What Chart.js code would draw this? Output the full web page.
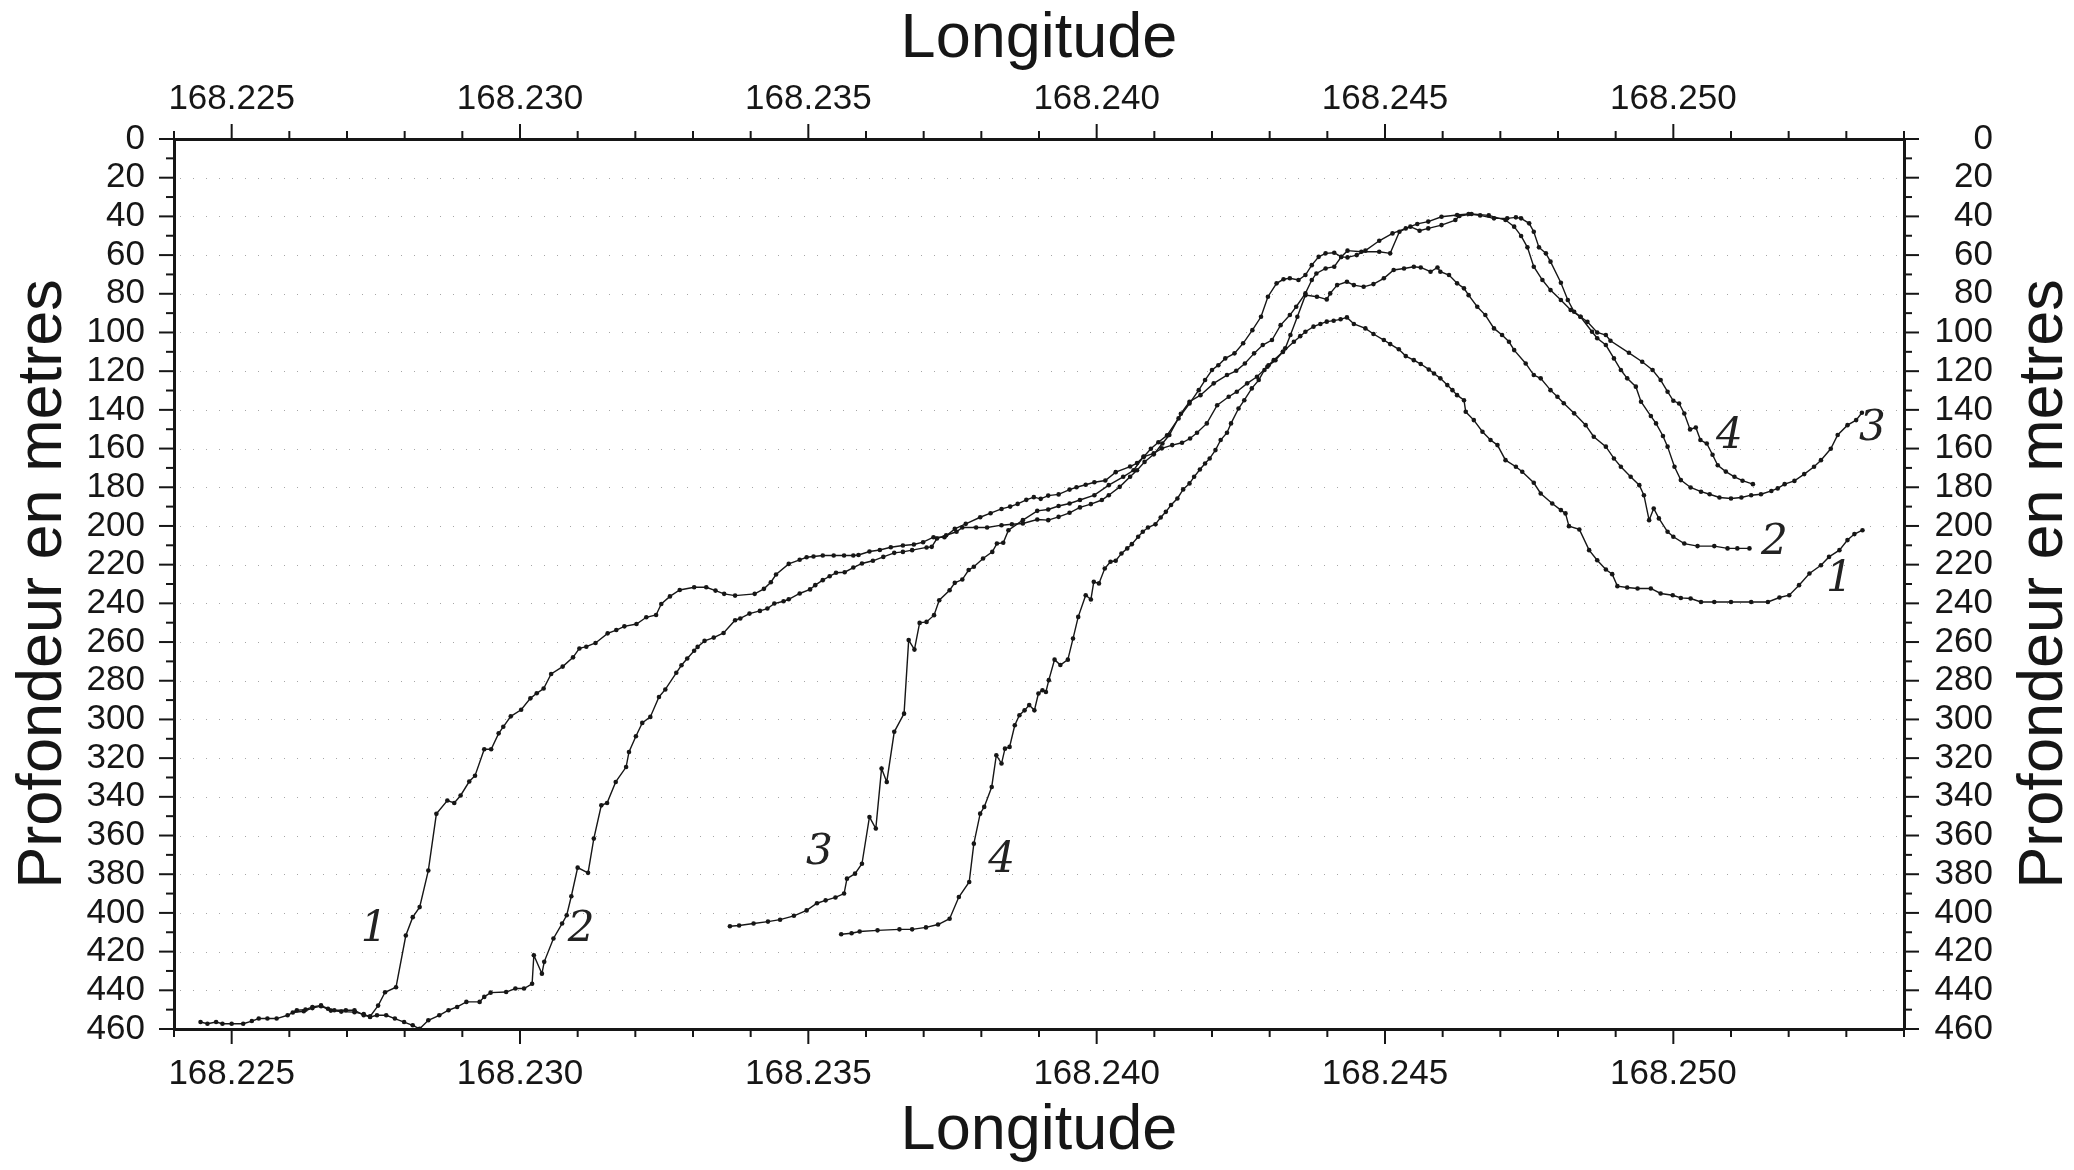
<!DOCTYPE html>
<html>
<head>
<meta charset="utf-8">
<title>Profondeur en metres / Longitude</title>
<script src="https://cdn.jsdelivr.net/npm/chart.js@4.4.1/dist/chart.umd.min.js"></script>
<style>
  html, body { margin: 0; padding: 0; background: #fff; }
  #wrap { width: 2074px; height: 1170px; }
</style>
</head>
<body>
<div id="wrap"><canvas id="profileChart" width="2074" height="1170"></canvas></div>
<script>
// axis ranges and tick steps
const lonMin = 168.224, lonMax = 168.254, lonStep = 0.001;
const depthMin = 0, depthMax = 460, depthStep = 10;

// profile 1
const p1Lon = [
  168.22446, 168.22458, 168.22473, 168.22484, 168.22500, 168.22520, 168.22535, 168.22547, 168.22562, 168.22578,
  168.22597, 168.22613, 168.22628, 168.22640, 168.22655, 168.22667, 168.22678, 168.22698, 168.22713, 168.22729,
  168.22740, 168.22754, 168.22766, 168.22785, 168.22802, 168.22814, 168.22826, 168.22841, 168.22855, 168.22874,
  168.22886, 168.22897, 168.22912, 168.22922, 168.22938, 168.22950, 168.22963, 168.22971, 168.22984, 168.23002,
  168.23018, 168.23029, 168.23041, 168.23054, 168.23074, 168.23092, 168.23103, 168.23115, 168.23131, 168.23152,
  168.23167, 168.23181, 168.23202, 168.23219, 168.23236, 168.23245, 168.23260, 168.23277, 168.23302, 168.23323,
  168.23339, 168.23354, 168.23373, 168.23407, 168.23423, 168.23435, 168.23444, 168.23466, 168.23485, 168.23497,
  168.23509, 168.23525, 168.23544, 168.23562, 168.23578, 168.23587, 168.23606, 168.23624, 168.23643, 168.23664,
  168.23683, 168.23699, 168.23717, 168.23736, 168.23754, 168.23773, 168.23798, 168.23816, 168.23835, 168.23850,
  168.23863, 168.23878, 168.23891, 168.23903, 168.23916, 168.23934, 168.23953, 168.23965, 168.23981, 168.23996,
  168.24015, 168.24033, 168.24058, 168.24070, 168.24082, 168.24094, 168.24107, 168.24122, 168.24142, 168.24161,
  168.24177, 168.24188, 168.24200, 168.24211, 168.24223, 168.24239, 168.24254, 168.24270, 168.24285, 168.24297,
  168.24312, 168.24324, 168.24335, 168.24350, 168.24362, 168.24373, 168.24385, 168.24397, 168.24412, 168.24424,
  168.24435, 168.24451, 168.24466, 168.24490, 168.24513, 168.24536, 168.24556, 168.24575, 168.24598, 168.24625,
  168.24645, 168.24665, 168.24689, 168.24712, 168.24727, 168.24736, 168.24750, 168.24758, 168.24767, 168.24779,
  168.24787, 168.24805, 168.24817, 168.24828, 168.24839, 168.24851, 168.24868, 168.24883, 168.24891, 168.24923,
  168.24946, 168.24964, 168.24978, 168.24990, 168.25000, 168.25010, 168.25019, 168.25029, 168.25039, 168.25047,
  168.25058, 168.25068, 168.25077, 168.25091, 168.25106, 168.25120, 168.25138
];
const p1Depth = [
  456.4, 457.3, 456.4, 457.3, 457.3, 457.3, 455.9, 454.6, 454.6, 454.6,
  452.9, 450.3, 450.0, 448.6, 447.8, 449.5, 450.3, 450.3, 450.3, 452.9,
  453.5, 447.9, 441.0, 438.4, 411.7, 402.2, 397.0, 378.1, 348.8, 341.9,
  343.2, 339.3, 332.1, 329.1, 315.4, 315.4, 307.2, 303.8, 298.4, 295.0,
  289.1, 286.5, 284.0, 276.5, 272.7, 267.9, 263.3, 262.4, 260.5, 255.5,
  253.8, 251.9, 250.7, 247.2, 246.0, 240.3, 236.4, 233.1, 231.7, 231.7,
  233.4, 235.1, 236.0, 235.1, 232.5, 229.1, 225.1, 219.6, 217.5, 216.2,
  215.8, 215.3, 215.3, 215.3, 215.3, 215.0, 213.2, 212.4, 211.0, 210.1,
  209.6, 208.4, 205.8, 205.8, 201.5, 198.9, 195.5, 193.4, 191.2, 190.0,
  188.6, 186.5, 185.1, 186.0, 184.3, 183.7, 181.2, 180.0, 178.7, 177.4,
  176.5, 172.2, 169.3, 167.5, 164.1, 160.1, 156.7, 153.2, 144.4, 136.7,
  129.8, 124.6, 119.4, 116.9, 113.4, 110.8, 105.6, 98.8, 91.9, 81.5,
  74.6, 72.5, 72.0, 72.9, 70.3, 65.2, 60.9, 59.1, 58.8, 60.9,
  61.2, 60.0, 57.7, 52.6, 48.8, 46.2, 43.9, 42.7, 40.2, 39.3,
  38.8, 39.5, 41.0, 41.0, 40.5, 41.0, 43.6, 47.9, 56.0, 59.1,
  63.4, 74.3, 83.2, 89.3, 91.9, 94.5, 100.0, 101.3, 104.3, 110.5,
  115.1, 119.4, 124.6, 130.6, 135.3, 136.7, 141.9, 150.1, 149.1, 155.6,
  157.4, 163.2, 168.6, 171.9, 174.6, 176.6, 178.4
];

// profile 2
const p2Lon = [
  168.22606, 168.22625, 168.22640, 168.22655, 168.22672, 168.22690, 168.22713, 168.22729, 168.22740, 168.22752,
  168.22768, 168.22783, 168.22799, 168.22814, 168.22826, 168.22841, 168.22860, 168.22876, 168.22891, 168.22907,
  168.22930, 168.22938, 168.22949, 168.22976, 168.22992, 168.23007, 168.23021, 168.23024, 168.23038, 168.23042,
  168.23058, 168.23073, 168.23081, 168.23089, 168.23100, 168.23118, 168.23128, 168.23141, 168.23151, 168.23166,
  168.23184, 168.23189, 168.23201, 168.23212, 168.23226, 168.23241, 168.23252, 168.23271, 168.23280, 168.23290,
  168.23302, 168.23308, 168.23320, 168.23336, 168.23353, 168.23373, 168.23382, 168.23398, 168.23416, 168.23429,
  168.23441, 168.23457, 168.23466, 168.23485, 168.23503, 168.23512, 168.23525, 168.23537, 168.23548, 168.23563,
  168.23578, 168.23593, 168.23612, 168.23630, 168.23649, 168.23664, 168.23680, 168.23705, 168.23714, 168.23723,
  168.23739, 168.23757, 168.23767, 168.23791, 168.23810, 168.23835, 168.23853, 168.23872, 168.23897, 168.23916,
  168.23934, 168.23953, 168.23971, 168.23990, 168.24009, 168.24021, 168.24040, 168.24058, 168.24070, 168.24083,
  168.24099, 168.24114, 168.24126, 168.24146, 168.24161, 168.24180, 168.24203, 168.24226, 168.24242, 168.24257,
  168.24273, 168.24288, 168.24304, 168.24319, 168.24335, 168.24346, 168.24362, 168.24373, 168.24381, 168.24397,
  168.24412, 168.24424, 168.24435, 168.24459, 168.24490, 168.24509, 168.24525, 168.24544, 168.24560, 168.24575,
  168.24598, 168.24622, 168.24629, 168.24650, 168.24680, 168.24709, 168.24724, 168.24736, 168.24747, 168.24758,
  168.24773, 168.24787, 168.24805, 168.24822, 168.24839, 168.24859, 168.24868, 168.24883, 168.24897, 168.24909,
  168.24920, 168.24935, 168.24944, 168.24961, 168.24970, 168.24982, 168.24990, 168.25002, 168.25013, 168.25030,
  168.25048, 168.25063, 168.25080, 168.25100, 168.25118, 168.25135, 168.25152, 168.25170, 168.25181, 168.25193,
  168.25210, 168.25227, 168.25244, 168.25256, 168.25273, 168.25285, 168.25302, 168.25317, 168.25327
];
const p2Depth = [
  451.5, 450.8, 449.2, 448.2, 450.5, 451.0, 451.3, 452.3, 453.8, 452.9,
  452.9, 454.6, 456.4, 458.1, 459.9, 455.5, 452.9, 450.3, 448.6, 446.0,
  446.0, 443.4, 441.2, 440.9, 439.1, 439.1, 436.6, 421.9, 431.4, 425.3,
  413.2, 405.5, 401.2, 391.4, 376.6, 379.3, 361.6, 344.4, 343.2, 332.3,
  324.6, 316.8, 308.7, 301.8, 298.7, 288.4, 284.5, 275.9, 272.0, 268.5,
  264.5, 262.5, 259.4, 257.7, 255.3, 248.7, 247.8, 245.3, 243.9, 242.7,
  240.1, 238.9, 237.9, 234.9, 232.8, 230.6, 228.0, 226.0, 224.2, 223.9,
  221.5, 219.4, 218.0, 216.0, 213.9, 213.4, 212.5, 211.1, 210.8, 206.5,
  204.8, 203.0, 200.8, 200.8, 200.8, 199.6, 199.1, 198.7, 196.7, 197.0,
  195.3, 193.2, 190.4, 188.7, 186.6, 184.1, 179.8, 174.6, 171.2, 166.9,
  163.0, 157.4, 153.0, 142.0, 135.8, 132.4, 126.3, 122.0, 119.8, 116.0,
  110.8, 106.5, 103.9, 96.2, 91.0, 86.7, 79.8, 72.9, 69.5, 66.9,
  66.0, 61.0, 57.7, 58.3, 58.3, 59.1, 47.9, 45.3, 47.4, 46.2,
  44.5, 41.9, 39.8, 38.8, 39.5, 41.9, 45.3, 50.1, 56.0, 66.0,
  72.9, 78.1, 83.2, 88.4, 91.9, 99.6, 103.0, 106.5, 113.4, 119.4,
  123.7, 128.0, 135.8, 143.2, 147.0, 153.5, 159.0, 169.4, 176.3, 180.1,
  182.3, 183.6, 185.3, 185.8, 185.3, 184.1, 183.6, 181.9, 180.6, 178.4,
  176.7, 173.2, 169.4, 166.0, 160.1, 153.0, 147.9, 145.3, 141.5
];

// profile 3
const p3Lon = [
  168.23364, 168.23380, 168.23405, 168.23430, 168.23451, 168.23475, 168.23497, 168.23515, 168.23530, 168.23547,
  168.23562, 168.23567, 168.23581, 168.23593, 168.23606, 168.23617, 168.23627, 168.23636, 168.23649, 168.23666,
  168.23674, 168.23684, 168.23693, 168.23705, 168.23718, 168.23727, 168.23745, 168.23754, 168.23767, 168.23778,
  168.23787, 168.23803, 168.23819, 168.23827, 168.23838, 168.23847, 168.23872, 168.23897, 168.23916, 168.23934,
  168.23953, 168.23971, 168.23996, 168.24021, 168.24046, 168.24064, 168.24081, 168.24099, 168.24113, 168.24131,
  168.24148, 168.24162, 168.24174, 168.24191, 168.24209, 168.24229, 168.24243, 168.24261, 168.24278, 168.24296,
  168.24310, 168.24323, 168.24342, 168.24353, 168.24362, 168.24376, 168.24388, 168.24399, 168.24411, 168.24423,
  168.24434, 168.24446, 168.24466, 168.24480, 168.24498, 168.24509, 168.24524, 168.24536, 168.24550, 168.24562,
  168.24576, 168.24585, 168.24596, 168.24608, 168.24617, 168.24625, 168.24637, 168.24640, 168.24654, 168.24669,
  168.24683, 168.24695, 168.24709, 168.24727, 168.24738, 168.24758, 168.24770, 168.24790, 168.24805, 168.24813,
  168.24819, 168.24837, 168.24854, 168.24868, 168.24883, 168.24894, 168.24903, 168.24920, 168.24938, 168.24961,
  168.24978, 168.24999, 168.25013, 168.25030, 168.25048, 168.25071, 168.25100, 168.25135, 168.25164, 168.25184,
  168.25201, 168.25218, 168.25236, 168.25256, 168.25270, 168.25288, 168.25302, 168.25314, 168.25328
];
const p3Depth = [
  406.9, 406.5, 405.5, 404.5, 403.5, 401.5, 398.7, 395.0, 393.5, 392.0,
  390.0, 382.3, 379.7, 374.6, 350.4, 356.4, 325.4, 332.3, 306.4, 297.0,
  259.0, 263.9, 250.1, 249.6, 246.1, 238.4, 233.2, 229.4, 227.7, 222.8,
  221.1, 216.8, 213.4, 209.1, 208.7, 202.2, 197.0, 192.2, 191.5, 189.7,
  188.4, 186.6, 184.1, 178.9, 174.6, 171.2, 164.3, 162.5, 159.9, 158.2,
  157.0, 154.8, 151.8, 147.0, 137.6, 133.2, 130.6, 126.3, 122.9, 117.7,
  114.3, 110.0, 104.8, 101.9, 99.6, 97.0, 95.6, 94.4, 93.9, 93.2,
  92.2, 95.6, 97.9, 100.8, 103.9, 106.0, 108.7, 112.2, 114.3, 116.3,
  119.1, 121.2, 123.7, 127.2, 129.8, 132.4, 135.0, 141.0, 145.3, 151.3,
  155.6, 158.2, 166.0, 169.4, 172.0, 177.7, 183.2, 188.4, 191.8, 193.5,
  200.1, 201.8, 212.5, 217.7, 222.5, 224.9, 231.1, 231.8, 232.3, 232.3,
  234.9, 235.8, 237.2, 237.5, 239.3, 239.3, 239.3, 239.3, 239.3, 237.0,
  235.8, 230.6, 224.6, 220.3, 216.0, 212.5, 207.3, 204.2, 202.2
];

// profile 4
const p4Lon = [
  168.23557, 168.23575, 168.23589, 168.23620, 168.23658, 168.23680, 168.23704, 168.23725, 168.23745, 168.23761,
  168.23779, 168.23787, 168.23798, 168.23805, 168.23818, 168.23826, 168.23835, 168.23841, 168.23849, 168.23858,
  168.23866, 168.23875, 168.23883, 168.23892, 168.23899, 168.23906, 168.23912, 168.23917, 168.23927, 168.23937,
  168.23950, 168.23959, 168.23968, 168.23981, 168.23990, 168.23995, 168.24004, 168.24014, 168.24024, 168.24033,
  168.24043, 168.24053, 168.24061, 168.24072, 168.24080, 168.24089, 168.24102, 168.24111, 168.24120, 168.24129,
  168.24140, 168.24150, 168.24161, 168.24169, 168.24179, 168.24188, 168.24196, 168.24206, 168.24215, 168.24226,
  168.24233, 168.24246, 168.24256, 168.24269, 168.24281, 168.24291, 168.24298, 168.24307, 168.24323, 168.24327,
  168.24336, 168.24348, 168.24362, 168.24382, 168.24399, 168.24405, 168.24417, 168.24434, 168.24446, 168.24463,
  168.24480, 168.24498, 168.24515, 168.24533, 168.24550, 168.24562, 168.24579, 168.24591, 168.24596, 168.24611,
  168.24625, 168.24637, 168.24645, 168.24660, 168.24674, 168.24689, 168.24703, 168.24715, 168.24724, 168.24744,
  168.24758, 168.24770, 168.24787, 168.24799, 168.24810, 168.24828, 168.24848, 168.24862, 168.24883, 168.24897,
  168.24909, 168.24926, 168.24941, 168.24949, 168.24958, 168.24966, 168.24975, 168.24990, 168.25000, 168.25019,
  168.25042, 168.25071, 168.25094, 168.25111, 168.25132
];
const p4Depth = [
  411.0, 410.5, 409.6, 409.0, 408.5, 408.5, 407.5, 406.0, 403.0, 391.8,
  384.0, 364.2, 348.7, 345.2, 334.9, 318.5, 322.8, 315.1, 314.2, 303.0,
  297.8, 295.3, 292.6, 295.3, 286.6, 284.9, 285.8, 279.7, 269.1, 271.9,
  269.1, 258.2, 247.0, 235.8, 238.0, 228.9, 229.7, 222.0, 218.5, 218.0,
  214.2, 211.6, 209.4, 205.6, 203.0, 200.8, 199.1, 195.6, 192.7, 189.2,
  185.8, 181.1, 178.0, 174.6, 170.8, 167.7, 165.1, 160.8, 155.6, 151.8,
  147.0, 139.3, 135.0, 128.9, 124.6, 119.4, 116.9, 114.3, 110.0, 108.2,
  101.3, 91.9, 80.7, 81.5, 82.9, 79.8, 75.5, 73.8, 75.5, 76.4,
  75.0, 72.0, 67.7, 66.9, 66.0, 66.4, 68.6, 66.4, 68.6, 70.3,
  74.6, 77.2, 80.7, 86.7, 91.0, 97.9, 101.3, 104.8, 109.1, 116.0,
  122.0, 123.7, 129.8, 133.2, 136.6, 141.8, 147.9, 153.9, 159.0, 165.1,
  169.4, 174.6, 178.9, 184.1, 197.0, 191.0, 196.1, 203.0, 205.6, 209.1,
  210.4, 210.4, 211.6, 211.6, 211.6
];

// hand-written profile numbers
const noteText  = ["1", "2", "3", "4", "4", "3", "2", "1"];
const noteLon   = [168.22747, 168.23106, 168.23519, 168.23835, 168.25097, 168.25345, 168.25175, 168.25288];
const noteDepth = [409, 409, 369, 373, 154, 150, 209, 228];

const profiles = [
  [p1Lon, p1Depth],
  [p2Lon, p2Depth],
  [p3Lon, p3Depth],
  [p4Lon, p4Depth]
];

const ink = "#161616";
const sans = '"Liberation Sans", Arial, Helvetica, sans-serif';
Chart.defaults.font.family = sans;
Chart.defaults.color = ink;

const tickFont = { size: 35 };
const titleFont = { size: 63 };

function lonLabel(v) {
  return Math.round(v * 1000) % 5 === 0 ? v.toFixed(3) : "";
}
function depthLabel(v) {
  return Math.round(v) % 20 === 0 ? String(Math.round(v)) : "";
}

// tick marks, dotted depth grid, right-hand title and the numbers on the profiles
const paperPlugin = {
  id: "paper",
  beforeDatasetsDraw(chart) {
    const { ctx, chartArea: a } = chart;
    const ys = chart.scales.y;
    ctx.save();
    ctx.strokeStyle = "#a6a6a6";
    ctx.lineWidth = 1;
    ctx.setLineDash([1, 12]);
    ys.ticks.forEach(t => {
      const v = Math.round(t.value);
      if (v % 20 !== 0 || v <= depthMin || v >= depthMax) return;
      const py = Math.round(ys.getPixelForValue(v)) + 0.5;
      ctx.beginPath();
      ctx.moveTo(a.left + 6, py);
      ctx.lineTo(a.right - 4, py);
      ctx.stroke();
    });
    ctx.restore();
  },
  afterDraw(chart) {
    const { ctx, chartArea: a } = chart;
    ctx.save();
    ctx.strokeStyle = ink;
    ctx.lineWidth = 2;
    ["x", "x2"].forEach(id => {
      const s = chart.scales[id];
      s.ticks.forEach(t => {
        const len = t.label ? 15 : 8;
        const px = s.getPixelForValue(t.value);
        ctx.beginPath();
        if (id === "x") { ctx.moveTo(px, a.bottom); ctx.lineTo(px, a.bottom + len); }
        else { ctx.moveTo(px, a.top); ctx.lineTo(px, a.top - len); }
        ctx.stroke();
      });
    });
    ["y", "y2"].forEach(id => {
      const s = chart.scales[id];
      s.ticks.forEach(t => {
        const len = t.label ? 15 : 8;
        const py = s.getPixelForValue(t.value);
        ctx.beginPath();
        if (id === "y") { ctx.moveTo(a.left, py); ctx.lineTo(a.left - len, py); }
        else { ctx.moveTo(a.right, py); ctx.lineTo(a.right + len, py); }
        ctx.stroke();
      });
    });

    // right axis title reads bottom to top like the left one
    ctx.fillStyle = ink;
    ctx.font = titleFont.size + "px " + sans;
    ctx.textAlign = "center";
    ctx.textBaseline = "middle";
    ctx.translate(2045, (a.top + a.bottom) / 2);
    ctx.rotate(-Math.PI / 2);
    ctx.fillText("Profondeur en metres", 0, 0);
    ctx.restore();

    ctx.save();
    ctx.fillStyle = "#222";
    ctx.font = 'italic 42px "DejaVu Serif", serif';
    ctx.textAlign = "center";
    ctx.textBaseline = "middle";
    noteText.forEach((txt, i) => {
      ctx.fillText(txt,
        chart.scales.x.getPixelForValue(noteLon[i]),
        chart.scales.y.getPixelForValue(noteDepth[i]));
    });
    ctx.restore();
  }
};

const frame = { display: true, color: ink, width: 3 };

new Chart(document.getElementById("profileChart").getContext("2d"), {
  type: "scatter",
  data: {
    datasets: profiles.map(([lon, depth], i) => ({
      label: "Profil " + (i + 1),
      data: lon.map((x, k) => ({ x, y: depth[k] })),
      showLine: true,
      borderColor: ink,
      borderWidth: 1.4,
      pointRadius: 2.3,
      pointBackgroundColor: ink,
      pointBorderWidth: 0,
      tension: 0
    }))
  },
  options: {
    responsive: false,
    animation: false,
    layout: { padding: { right: 81 } },
    plugins: { legend: { display: false }, tooltip: { enabled: false } },
    scales: {
      x: {
        type: "linear", position: "bottom", min: lonMin, max: lonMax,
        ticks: { stepSize: lonStep, autoSkip: false, maxRotation: 0, padding: 24, font: tickFont, callback: lonLabel },
        grid: { display: false, drawTicks: false },
        border: frame,
        title: { display: true, text: "Longitude", font: titleFont, padding: { top: 0, bottom: 1 } },
        afterFit(s) { s.height = 141; }
      },
      x2: {
        type: "linear", position: "top", min: lonMin, max: lonMax,
        ticks: { stepSize: lonStep, autoSkip: false, maxRotation: 0, padding: 19, font: tickFont, callback: lonLabel },
        grid: { display: false, drawTicks: false },
        border: frame,
        title: { display: true, text: "Longitude", font: titleFont, padding: { top: 2, bottom: 0 } },
        afterFit(s) { s.height = 139; }
      },
      y: {
        type: "linear", position: "left", reverse: true, min: depthMin, max: depthMax,
        ticks: { stepSize: depthStep, autoSkip: false, padding: 29, font: tickFont, callback: depthLabel },
        grid: { display: false, drawTicks: false },
        border: frame,
        title: { display: true, text: "Profondeur en metres", font: titleFont, padding: { top: 6, bottom: 0 } },
        afterFit(s) { s.width = 174; }
      },
      y2: {
        type: "linear", position: "right", reverse: true, min: depthMin, max: depthMax,
        ticks: { stepSize: depthStep, autoSkip: false, crossAlign: "far", padding: 30, font: tickFont, callback: depthLabel },
        grid: { display: false, drawTicks: false },
        border: frame,
        afterFit(s) { s.width = 89; }
      }
    }
  },
  plugins: [paperPlugin]
});
</script>
</body>
</html>
